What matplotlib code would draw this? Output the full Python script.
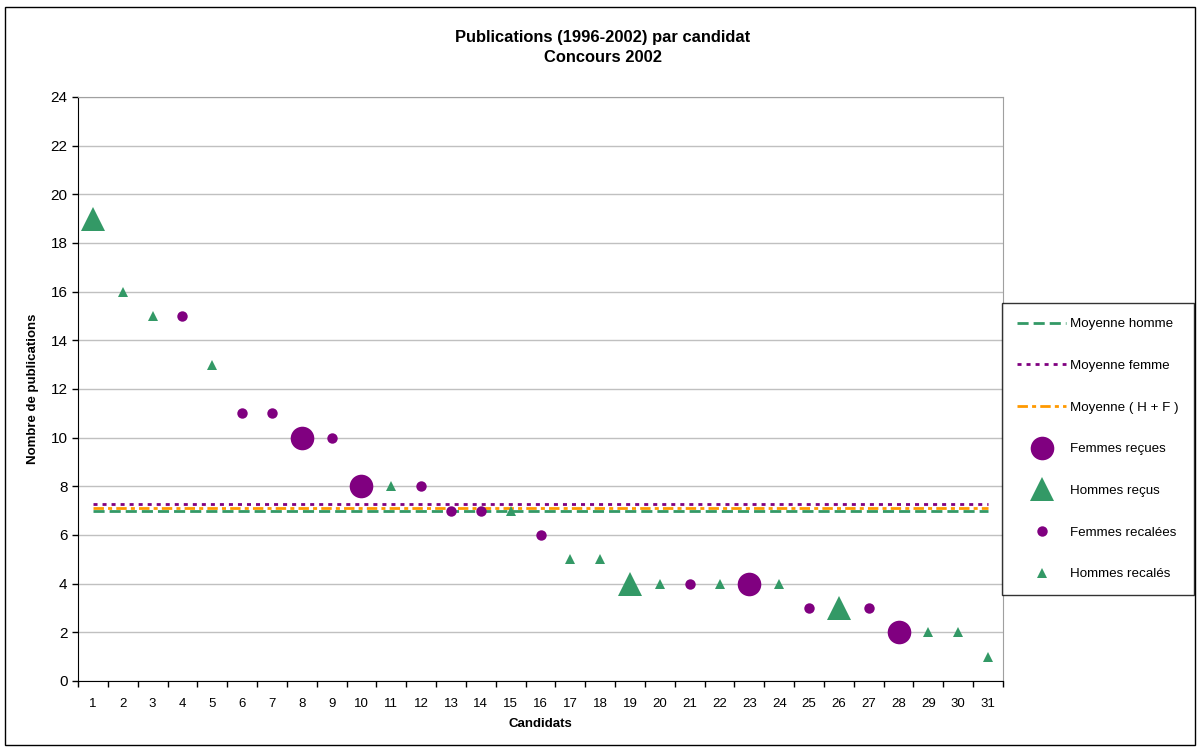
import matplotlib
matplotlib.use("Agg")
import matplotlib.pyplot as plt
from matplotlib.lines import Line2D
from matplotlib.patches import Rectangle
import numpy as np

plt.rcParams['font.family'] = ['Liberation Sans', 'DejaVu Sans']

candidates = list(range(1, 32))
publications = [19, 16, 15, 15, 13, 11, 11, 10, 10, 8, 8, 8, 7, 7, 7, 6,
                5, 5, 4, 4, 4, 4, 4, 4, 3, 3, 3, 2, 2, 2, 1]
# FR = femme reçue, HR = homme reçu, FX = femme recalée, HX = homme recalé
groups = ['HR', 'HX', 'HX', 'FX', 'HX', 'FX', 'FX', 'FR', 'FX', 'FR', 'HX', 'FX',
          'FX', 'FX', 'HX', 'FX', 'HX', 'HX', 'HR', 'HX', 'FX', 'HX', 'FR', 'HX',
          'FX', 'HR', 'FX', 'FR', 'HX', 'HX', 'HX']
mean_homme = 7.0
mean_femme = 7.27
mean_total = 7.13

GREEN = '#339966'
PURPLE = '#800080'
ORANGE = '#FF9900'

DASH_H = (4.0, 1.8)
DASH_F = (1.45, 1.8)
DASH_T = (3.75, 1.5, 1.45, 1.5)
LW = 2.0

fig = plt.figure(figsize=(11.98, 7.47), dpi=100)
ax = fig.add_axes([78/1198, 66/747, 925/1198, 584/747])

ax.set_xlim(0.5, 31.5)
ax.set_ylim(0, 24)

styles = {
    'FR': dict(marker='o', color=PURPLE, ms=17),
    'HR': dict(marker='^', color=GREEN, ms=17),
    'FX': dict(marker='o', color=PURPLE, ms=7.5),
    'HX': dict(marker='^', color=GREEN, ms=7.5),
}
for g in ['FR', 'HR', 'FX', 'HX']:
    xs = [c for c, gg in zip(candidates, groups) if gg == g]
    ys = [p for p, gg in zip(publications, groups) if gg == g]
    st = styles[g]
    ax.plot(xs, ys, linestyle='none', marker=st['marker'], color=st['color'],
            markersize=st['ms'], markeredgewidth=0, zorder=4)

x0, x1 = candidates[0], candidates[-1]
ax.plot([x0, x1], [mean_homme]*2, color=GREEN, lw=LW, dashes=DASH_H, zorder=3)
ax.plot([x0, x1], [mean_femme]*2, color=PURPLE, lw=LW, dashes=DASH_F, zorder=3)
ax.plot([x0, x1], [mean_total]*2, color=ORANGE, lw=LW, dashes=DASH_T, zorder=3)

ax.set_yticks(np.arange(0, 25, 2))
ax.yaxis.grid(True, color='#c0c0c0', lw=1)
ax.set_axisbelow(True)
ax.set_xticks(candidates)
ax.set_xticklabels([str(c) for c in candidates])
ax.set_xticks(np.arange(0.5, 32, 1), minor=True)
ax.tick_params(axis='x', which='major', length=0, pad=12, labelsize=9.5)
ax.tick_params(axis='x', which='minor', length=4, width=1, direction='out')
ax.tick_params(axis='y', length=4, width=1, labelsize=11, direction='out')
for s in ['top', 'right']:
    ax.spines[s].set_color('#a0a0a0')
for s in ['left', 'bottom']:
    ax.spines[s].set_color('black')

ax.set_xlabel('Candidats', fontsize=9.5, fontweight='bold', labelpad=6)
ax.set_ylabel('Nombre de publications', fontsize=9.5, fontweight='bold', labelpad=8)

fig.text(603/1198, 1 - 47.5/747, 'Publications (1996-2002) par candidat\nConcours 2002',
         ha='center', va='center', fontsize=11.9, fontweight='bold', linespacing=1.45)

handles = [
    Line2D([], [], color=GREEN, lw=LW, dashes=DASH_H),
    Line2D([], [], color=PURPLE, lw=LW, dashes=DASH_F),
    Line2D([], [], color=ORANGE, lw=LW, dashes=DASH_T),
    Line2D([], [], ls='none', marker='o', color=PURPLE, ms=17, mew=0),
    Line2D([], [], ls='none', marker='^', color=GREEN, ms=17, mew=0),
    Line2D([], [], ls='none', marker='o', color=PURPLE, ms=7.5, mew=0),
    Line2D([], [], ls='none', marker='^', color=GREEN, ms=7.5, mew=0),
]
labels = ['Moyenne homme', 'Moyenne femme', 'Moyenne ( H + F )', 'Femmes reçues',
          'Hommes reçus', 'Femmes recalées', 'Hommes recalés']
leg = fig.legend(handles, labels, loc='center', bbox_to_anchor=(1098/1198, 1 - 449/747),
                 fontsize=9.6, frameon=True, fancybox=False, edgecolor='black',
                 labelspacing=2.2, handlelength=3.7, handletextpad=0.3,
                 borderpad=1.1, borderaxespad=0)
leg.get_frame().set_linewidth(1)

fig.patches.append(Rectangle((5/1198, 2/747), 1190/1198, 738/747, transform=fig.transFigure,
                             fill=False, edgecolor='black', lw=1))

fig.savefig('out.png', dpi=100)
